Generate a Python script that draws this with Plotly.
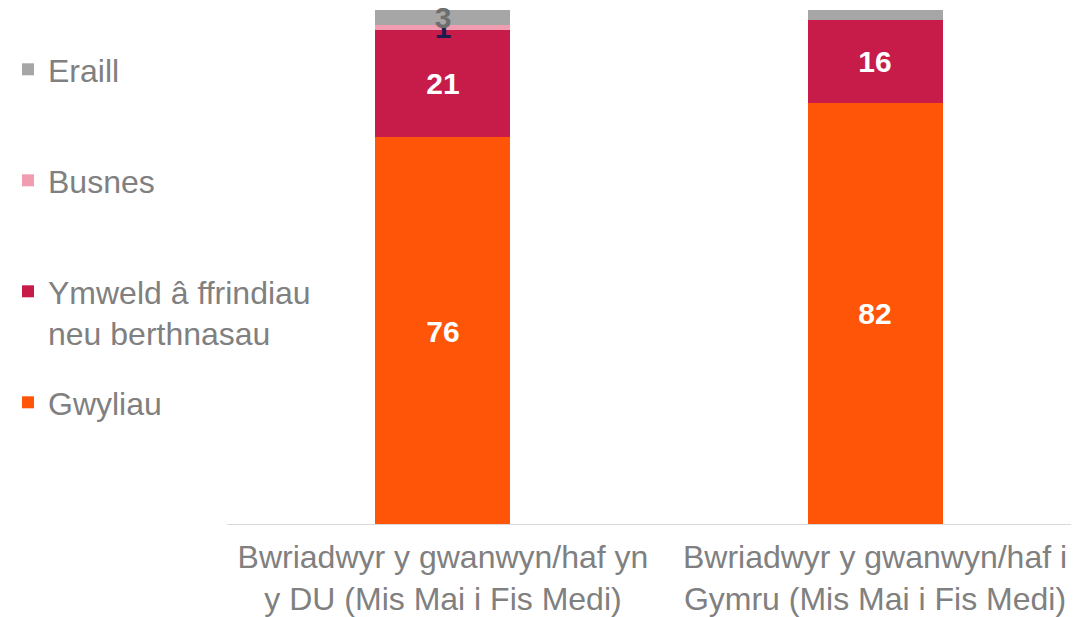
import plotly.graph_objects as go

# Data
categories = ['Bwriadwyr y gwanwyn/haf yn<br>y DU (Mis Mai i Fis Medi)',
              'Bwriadwyr y gwanwyn/haf i<br>Gymru (Mis Mai i Fis Medi)']
gwyliau = [76, 82]
ymweld = [21, 16]
busnes = [1, 0]
eraill = [3, 2]

gwyliau_text = ['76', '82']
ymweld_text = ['21', '16']
busnes_text = ['1', '']
eraill_text = ['3', '']

font = 'Arial, Liberation Sans, sans-serif'
x_idx = [0, 1]

series = [
    ('Gwyliau', gwyliau, gwyliau_text, '#FF5508', 'white', 'legend4'),
    ('Ymweld â ffrindiau<br>neu berthnasau', ymweld, ymweld_text, '#C71C4A', 'white', 'legend3'),
    ('Busnes', busnes, busnes_text, '#F09CB1', '#1E1B4E', 'legend2'),
    ('Eraill', eraill, eraill_text, '#A6A6A6', '#6E6E6E', 'legend'),
]

fig = go.Figure()
for name, vals, txt, col, tcol, leg in series:
    fig.add_trace(go.Bar(
        x=x_idx, y=vals, name=name, text=txt, showlegend=True,
        marker=dict(color=col, line=dict(width=0)),
        textposition='inside', insidetextanchor='middle', textangle=0,
        textfont=dict(family=font, size=30, color=tcol, weight='bold'),
        cliponaxis=False, legend=leg,
    ))

# page body has an 8px margin, so the figure is 8px smaller than the window
W, H = 1071, 609
PH = 515  # plot height

def leg(ypx):
    return dict(x=0, xref='paper', xanchor='left',
                y=1 - (ypx - 2) / PH, yref='paper', yanchor='top',
                font=dict(family=font, size=32, color='#808080'),
                bgcolor='rgba(0,0,0,0)', valign='top')

# axis baseline starts at the left edge of the original plot area
fig.add_shape(type='line', xref='paper', x0=219 / W, x1=1,
              yref='y', y0=0, y1=0, line=dict(color='#D9D9D9', width=2))

fig.update_layout(
    width=W, height=H,
    margin=dict(l=0, r=0, t=2, b=H - 2 - PH),
    barmode='stack', barnorm='percent', bargap=0.6875,
    plot_bgcolor='white', paper_bgcolor='white',
    showlegend=True,
    uniformtext=dict(minsize=30, mode='show'),
    legend=leg(34), legend2=leg(145), legend3=leg(256), legend4=leg(367),
    xaxis=dict(tickvals=x_idx, ticktext=categories, range=[-1.0069, 1.4722],
               showline=False, showgrid=False, zeroline=False, ticks='',
               ticklabelstandoff=10,
               tickfont=dict(family=font, size=32, color='#808080')),
    yaxis=dict(range=[0, 100], visible=False, showgrid=False),
)

fig.write_html('out.html')
